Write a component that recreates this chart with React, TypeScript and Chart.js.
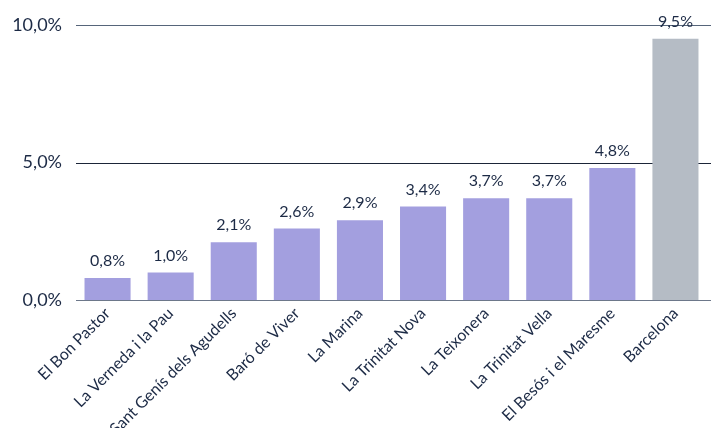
import React, { useEffect, useRef } from "react";
import { Chart, registerables } from "chart.js";

Chart.register(...registerables);

const categories = [
  "El Bon Pastor",
  "La Verneda i la Pau",
  "Sant Genís dels Agudells",
  "Baró de Viver",
  "La Marina",
  "La Trinitat Nova",
  "La Teixonera",
  "La Trinitat Vella",
  "El Besós i el Maresme",
  "Barcelona",
];
const values = [0.8, 1.0, 2.1, 2.6, 2.9, 3.4, 3.7, 3.7, 4.8, 9.5];
const yTicks = [0, 5, 10];

const PURPLE = "#a39fdf";
const GREY = "#b5bcc5";
const TEXT = "#1c2a45";

const fmt = (v: number, d: number) => v.toFixed(d).replace(".", ",") + "%";

const gridColor = (v: number) => (v === 5 ? "#1b2538" : v === 10 ? "#56657a" : "#6d788a");

const gridPlugin = {
  id: "fullGrid",
  beforeDatasetsDraw(chart: any) {
    const ctx = chart.ctx;
    const ys = chart.scales.y;
    ctx.save();
    ctx.lineWidth = 1.2;
    yTicks.forEach((v) => {
      const y = Math.round(ys.getPixelForValue(v)) + 0.5;
      ctx.strokeStyle = gridColor(v);
      ctx.beginPath();
      ctx.moveTo(chart.chartArea.left, y);
      ctx.lineTo(chart.width, y);
      ctx.stroke();
    });
    ctx.restore();
  },
};

const labelPlugin = {
  id: "barLabels",
  afterDatasetsDraw(chart: any) {
    const ctx = chart.ctx;
    const meta = chart.getDatasetMeta(0);
    ctx.save();
    ctx.font = "16px Lato";
    ctx.fillStyle = TEXT;
    ctx.textAlign = "center";
    ctx.textBaseline = "middle";
    meta.data.forEach((el: any, i: number) => {
      ctx.fillText(fmt(values[i], 1), el.x, el.y - 17);
    });
    ctx.restore();
  },
};

export default function App() {
  const ref = useRef<HTMLCanvasElement>(null);
  useEffect(() => {
    document.body.style.margin = "0";
    const chart = new Chart(ref.current!, {
      type: "bar",
      data: {
        labels: categories,
        datasets: [
          {
            data: values,
            backgroundColor: categories.map((c) => (c === "Barcelona" ? GREY : PURPLE)),
            barPercentage: 0.73,
            categoryPercentage: 1,
          },
        ],
      },
      options: {
        animation: false,
        responsive: false,
        maintainAspectRatio: false,
        layout: { padding: { top: 25, left: 10, right: 4, bottom: 0 } },
        plugins: { legend: { display: false }, tooltip: { enabled: false } },
        scales: {
          x: {
            grid: { display: false, drawTicks: false },
            border: { display: false },
            afterFit: (axis: any) => {
              axis.height = 128;
              axis.paddingLeft = 0;
              axis.paddingRight = 0;
            },
            ticks: {
              color: TEXT,
              font: { family: "Lato", size: 16 },
              minRotation: 45,
              maxRotation: 45,
              padding: 4,
            },
          },
          y: {
            min: 0,
            max: 10,
            afterBuildTicks: (axis: any) => {
              axis.ticks = yTicks.map((v) => ({ value: v }));
            },
            afterFit: (axis: any) => {
              axis.width = 66;
              axis.paddingTop = 0;
              axis.paddingBottom = 0;
            },
            border: { display: false },
            grid: { display: false, drawTicks: false },
            ticks: {
              color: TEXT,
              font: { family: "Lato", size: 18 },
              padding: 14,
              callback: (v: any) => fmt(Number(v), 1),
            },
          },
        },
      },
      plugins: [gridPlugin, labelPlugin],
    });
    return () => chart.destroy();
  }, []);
  return (
    <div style={{ width: 711, height: 428 }}>
      <canvas ref={ref} width={711} height={428} />
    </div>
  );
}
